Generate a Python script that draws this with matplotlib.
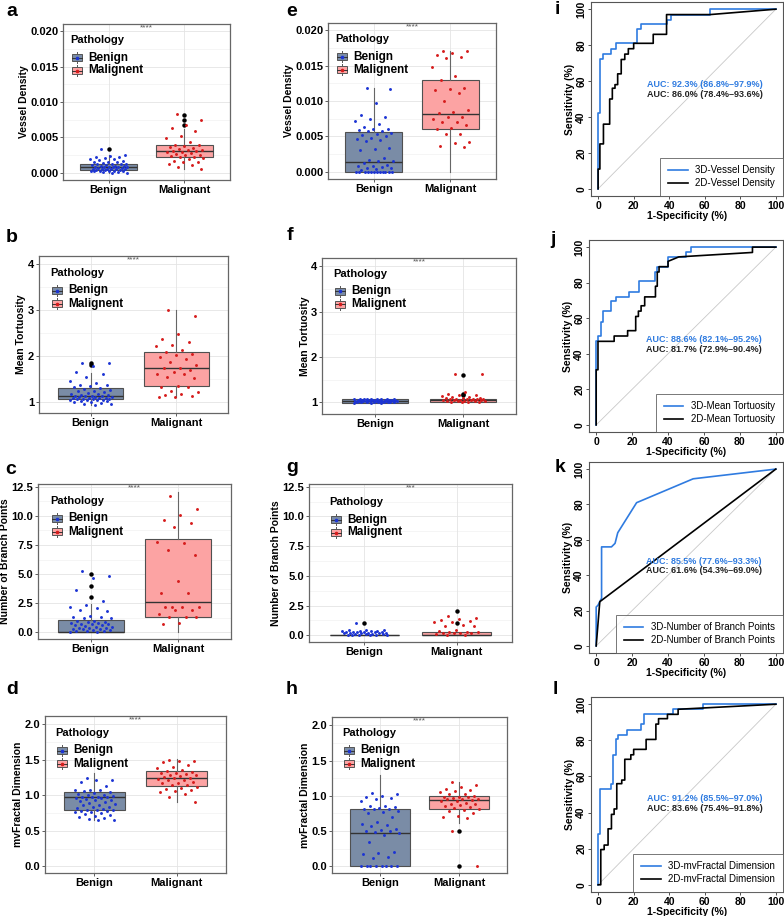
import numpy as np
import matplotlib
matplotlib.use('Agg')
import matplotlib.pyplot as plt
from matplotlib.lines import Line2D
from matplotlib.patches import Rectangle

plt.rcParams['font.family'] = ['Liberation Sans', 'DejaVu Sans']

W, H = 784, 916

BEN_FILL = '#7a8ca6'
MAL_FILL = '#fca3a3'
BEN_DOT = '#1c34d4'
MAL_DOT = '#d61c1c'
ROC_BLUE = '#2f7be0'

### DATA: box panels (whislo, q1, median, q3, whishi) ###
groups = ['Benign', 'Malignant']
legend_labels = ['Benign', 'Malignent']

a_ben = [0.0034, 0.0025, 0.0024, 0.0023, 0.0022, 0.0021, 0.0020, 0.0019, 0.0018, 0.0017,
         0.0016, 0.0015, 0.0015, 0.0014, 0.0013, 0.0013, 0.0012, 0.0012, 0.0011, 0.0011,
         0.0010, 0.0010, 0.0010, 0.0009, 0.0009, 0.0009, 0.0008, 0.0008, 0.0008, 0.0007,
         0.0007, 0.0006, 0.0006, 0.0006, 0.0005, 0.0005, 0.0005, 0.0004, 0.0004, 0.0004,
         0.0003, 0.0003, 0.0003, 0.0002, 0.0002, 0.0002, 0.0001, 0.0001, 0.0000, 0.0000]
a_mal = [0.0083, 0.0074, 0.0067, 0.0063, 0.0059, 0.0052, 0.0049, 0.0043, 0.0040, 0.0039,
         0.0038, 0.0036, 0.0035, 0.0034, 0.0033, 0.0032, 0.0031, 0.0031, 0.0030, 0.0029,
         0.0028, 0.0026, 0.0025, 0.0025, 0.0024, 0.0023, 0.0022, 0.0021, 0.0020, 0.0017,
         0.0016, 0.0015, 0.0012, 0.0011, 0.0008, 0.0006]
a_ben_box = [0.0, 0.0004, 0.0009, 0.0013, 0.0025]
a_mal_box = [0.0006, 0.0022, 0.0031, 0.0039, 0.0062]
a_ben_out = [0.0034]
a_mal_out = [0.0067, 0.0074, 0.0082]

e_ben = [0.0118, 0.0117, 0.0097, 0.0080, 0.0078, 0.0075, 0.0072, 0.0067, 0.0063, 0.0061,
         0.0060, 0.0059, 0.0058, 0.0057, 0.0055, 0.0054, 0.0052, 0.0050, 0.0048, 0.0046,
         0.0045, 0.0044, 0.0034, 0.0033, 0.0031, 0.0020, 0.0017, 0.0016, 0.0015, 0.0012,
         0.0010, 0.0009, 0.0008, 0.0007, 0.0006, 0.0005, 0.0004, 0.0003, 0.0, 0.0,
         0.0, 0.0, 0.0, 0.0, 0.0, 0.0, 0.0, 0.0, 0.0, 0.0]
e_mal = [0.0171, 0.0170, 0.0168, 0.0165, 0.0162, 0.0160, 0.0148, 0.0135, 0.0129, 0.0118,
         0.0117, 0.0116, 0.0111, 0.0100, 0.0087, 0.0085, 0.0083, 0.0078, 0.0077, 0.0074,
         0.0071, 0.0070, 0.0066, 0.0062, 0.0060, 0.0054, 0.0054, 0.0042, 0.0041, 0.0037,
         0.0035]
e_ben_box = [0.0, 0.0, 0.00146, 0.00566, 0.0119]
e_mal_box = [0.0, 0.0061, 0.0082, 0.0130, 0.0171]
e_ben_out = []
e_mal_out = []

b_ben = [1.86, 1.84, 1.78, 1.65, 1.62, 1.55, 1.45, 1.42, 1.38, 1.37, 1.35, 1.33, 1.31, 1.29,
         1.27, 1.25, 1.23, 1.21, 1.20, 1.18, 1.17, 1.16, 1.15, 1.14, 1.13, 1.12, 1.12, 1.11,
         1.10, 1.10, 1.09, 1.09, 1.08, 1.08, 1.07, 1.07, 1.06, 1.06, 1.05, 1.05, 1.04, 1.04,
         1.03, 1.02, 1.01, 1.00, 0.98, 0.96, 0.95, 0.94]
b_mal = [3.01, 2.87, 2.49, 2.37, 2.30, 2.25, 2.21, 2.13, 2.08, 2.05, 2.02, 1.97, 1.93, 1.87,
         1.80, 1.75, 1.73, 1.70, 1.65, 1.62, 1.60, 1.55, 1.52, 1.35, 1.33, 1.32, 1.25, 1.22,
         1.17, 1.15, 1.12, 1.11, 1.10]
b_ben_box = [0.94, 1.065, 1.13, 1.30, 1.63]
b_mal_box = [1.10, 1.34, 1.73, 2.08, 3.0]
b_ben_out = [1.80, 1.85]
b_mal_out = []

f_ben = [1.08, 1.08, 1.07, 1.07, 1.07, 1.06, 1.06, 1.06, 1.06, 1.05, 1.05, 1.05, 1.05, 1.05,
         1.04, 1.04, 1.04, 1.04, 1.04, 1.03, 1.03, 1.03, 1.03, 1.03, 1.03, 1.02, 1.02, 1.02,
         1.02, 1.02, 1.01, 1.01, 1.01, 1.01, 1.01, 1.00, 1.00, 1.00, 1.00, 0.99, 0.99, 0.99]
f_mal = [1.63, 1.62, 1.22, 1.19, 1.17, 1.16, 1.14, 1.12, 1.11, 1.10, 1.09, 1.09, 1.08, 1.08,
         1.07, 1.07, 1.06, 1.06, 1.05, 1.05, 1.05, 1.04, 1.04, 1.03, 1.03, 1.03, 1.02, 1.02,
         1.01, 1.01, 1.00, 1.00]
f_ben_box = [0.98, 0.99, 1.02, 1.06, 1.08]
f_mal_box = [1.0, 1.01, 1.045, 1.08, 1.13]
f_ben_out = []
f_mal_out = [1.61, 1.19, 1.16]

c_ben = [5.25, 4.85, 4.70, 3.60, 2.70, 2.35, 2.20, 2.10, 1.90, 1.85, 1.40, 1.35, 1.30, 1.25,
         1.20, 1.00, 0.95, 0.90, 0.85, 0.80, 0.80, 0.75, 0.70, 0.70, 0.65, 0.60, 0.55, 0.50,
         0.45, 0.40, 0.40, 0.35, 0.30, 0.30, 0.25, 0.20, 0.20, 0.15, 0.10, 0.10, 0.05, 0.05]
c_mal = [11.7, 10.6, 10.05, 9.6, 9.35, 9.0, 7.75, 7.65, 7.05, 6.65, 4.4, 3.35, 3.35, 2.2,
         2.2, 2.15, 2.15, 1.95, 1.9, 1.6, 1.35, 1.3, 1.3, 0.8, 0.75]
c_ben_box = [0.0, 0.0, 0.0, 1.03, 2.4]
c_mal_box = [0.0, 1.3, 2.57, 8.05, 12.07]
c_ben_out = [3.0, 4.0, 5.0]
c_mal_out = []

g_ben = [1.0, 0.45, 0.42, 0.40, 0.38, 0.36, 0.35, 0.33, 0.30, 0.30, 0.28, 0.27, 0.25, 0.25,
         0.22, 0.20, 0.20, 0.18, 0.15, 0.15, 0.12, 0.10, 0.10, 0.08, 0.05, 0.05, 0.03, 0.02,
         0.0, 0.0]
g_mal = [1.65, 1.45, 1.38, 1.30, 1.22, 1.15, 1.10, 0.82, 0.80, 0.75, 0.40, 0.33, 0.30, 0.28,
         0.25, 0.22, 0.20, 0.18, 0.15, 0.10, 0.05, 0.0]
g_ben_box = [0.0, 0.0, 0.0, 0.0, 0.0]
g_mal_box = [0.0, 0.0, 0.03, 0.26, 0.26]
g_ben_out = [1.0]
g_mal_out = [2.0, 1.0]

d_ben = [1.24, 1.22, 1.21, 1.19, 1.13, 1.08, 1.07, 1.07, 1.06, 1.04, 1.03, 1.02, 1.01, 1.00,
         0.99, 0.98, 0.98, 0.97, 0.97, 0.96, 0.96, 0.95, 0.94, 0.93, 0.92, 0.90, 0.89, 0.88,
         0.87, 0.86, 0.84, 0.83, 0.82, 0.81, 0.80, 0.79, 0.79, 0.78, 0.78, 0.77, 0.76, 0.75,
         0.74, 0.72, 0.71, 0.69, 0.68, 0.67, 0.65, 0.65]
d_mal = [1.50, 1.49, 1.48, 1.47, 1.43, 1.40, 1.38, 1.36, 1.34, 1.33, 1.32, 1.31, 1.30, 1.29,
         1.28, 1.27, 1.26, 1.25, 1.24, 1.23, 1.22, 1.21, 1.19, 1.18, 1.17, 1.15, 1.14, 1.12,
         1.11, 1.09, 1.08, 1.06, 1.04, 1.02, 0.98, 0.90]
d_ben_box = [0.65, 0.79, 0.974, 1.04, 1.31]
d_mal_box = [0.90, 1.13, 1.246, 1.345, 1.51]
d_ben_out = []
d_mal_out = []

h_ben = [1.04, 1.03, 1.00, 0.98, 0.97, 0.95, 0.92, 0.86, 0.85, 0.84, 0.83, 0.82, 0.82, 0.81,
         0.78, 0.77, 0.76, 0.70, 0.63, 0.60, 0.58, 0.57, 0.53, 0.52, 0.50, 0.50, 0.49, 0.48,
         0.45, 0.35, 0.20, 0.19, 0.18, 0.13, 0.12, 0.0, 0.0, 0.0, 0.0, 0.0, 0.0, 0.0, 0.0]
h_mal = [1.19, 1.15, 1.12, 1.10, 1.08, 1.07, 1.05, 1.03, 1.02, 1.00, 0.99, 0.98, 0.98, 0.97,
         0.96, 0.95, 0.95, 0.94, 0.93, 0.92, 0.90, 0.89, 0.88, 0.87, 0.85, 0.84, 0.83, 0.82,
         0.80, 0.78, 0.76, 0.72, 0.70, 0.68, 0.50, 0.0]
h_ben_box = [0.0, 0.0, 0.48, 0.806, 1.30]
h_mal_box = [0.61, 0.81, 0.937, 1.0, 1.19]
h_ben_out = []
h_mal_out = [0.5, 0.0]

### DATA: ROC curves (1-specificity %, sensitivity %) ###
i_3d_fpr = [0, 0, 0, 1, 1, 3, 3, 7, 7, 10, 10, 22, 22, 24, 24, 39, 39, 41, 41, 63, 63, 100]
i_3d_tpr = [0, 11, 42, 42, 72, 72, 75, 75, 78, 78, 81, 81, 89, 89, 92, 92, 94, 94, 97, 97, 100, 100]
i_2d_fpr = [0, 0, 1, 1, 3, 3, 6.5, 6.5, 8, 8, 9.5, 9.5, 11, 11, 13, 13, 15, 15, 17, 17, 20, 20,
            31, 31, 38.5, 38.5, 63, 100]
i_2d_tpr = [0, 11, 11, 25, 25, 36, 36, 50, 50, 56, 56, 58, 58, 64, 64, 72, 72, 75, 75, 78, 78, 81,
            81, 86, 86, 97, 97, 100]

j_3d_fpr = [0, 0, 1, 1, 2.5, 2.5, 4, 4, 8, 8, 11, 11, 18, 18, 24, 24, 33, 33, 34, 34, 40, 40,
            50, 50, 53, 53, 100]
j_3d_tpr = [0, 47, 47, 50, 50, 58, 58, 64, 64, 69.5, 69.5, 72, 72, 75, 75, 81, 81, 86, 86, 89, 89,
            94.5, 94.5, 97, 97, 100, 100]
j_2d_fpr = [0, 0, 1, 1, 10, 10, 17.5, 17.5, 22, 22, 23.5, 23.5, 25, 25, 27, 27, 33, 33, 34, 34,
            35, 35, 40, 40, 46, 87, 87, 100]
j_2d_tpr = [0, 31, 31, 47, 47, 50, 50, 53, 53, 61, 61, 64, 64, 67, 67, 72, 72, 78, 78, 86, 86,
            89, 89, 92, 94.5, 97, 100, 100]

k_3d_fpr = [0, 0, 1, 2, 3, 3, 8.5, 10.5, 12, 22.5, 54, 100]
k_3d_tpr = [0, 22, 23, 25, 27, 56, 56, 58, 64, 81, 94.5, 100]
k_2d_fpr = [0, 2, 100]
k_2d_tpr = [0, 25, 100]

l_3d_fpr = [0, 0, 1, 1, 7, 7, 8.5, 8.5, 10, 10, 11, 11, 16.5, 16.5, 24, 24, 26, 26, 42, 42,
            59, 59, 100]
l_3d_tpr = [0, 28, 28, 53, 53, 56, 56, 72, 72, 80.5, 80.5, 83, 83, 86, 86, 89, 89, 94.4, 94.4,
            97.2, 97.2, 100, 100]
l_2d_fpr = [0, 1.5, 1.5, 3.4, 3.4, 5.6, 5.6, 7.5, 7.5, 9, 9, 10.5, 10.5, 13.3, 13.3, 15, 15,
            18.4, 18.4, 20, 20, 27, 27, 32.5, 32.5, 34, 34, 39, 39, 45, 45, 100]
l_2d_tpr = [0, 0, 19.5, 19.5, 22, 22, 31, 31, 39, 39, 42, 42, 56, 56, 58, 58, 69.5, 69.5, 72,
            72, 75, 75, 80.5, 80.5, 89, 89, 92, 92, 94.4, 94.4, 97.2, 100]

roc_names = ['Vessel Density', 'Mean Tortuosity', 'Number of Branch Points', 'mvFractal Dimension']
auc_3d = ['AUC: 92.3% (86.8%\u201397.9%)', 'AUC: 88.6% (82.1%\u201395.2%)',
          'AUC: 85.5% (77.6%\u201393.3%)', 'AUC: 91.2% (85.5%\u201397.0%)']
auc_2d = ['AUC: 86.0% (78.4%\u201393.6%)', 'AUC: 81.7% (72.9%\u201390.4%)',
          'AUC: 61.6% (54.3%\u201369.0%)', 'AUC: 83.6% (75.4%\u201391.8%)']


def px_rect(l, t, r, b):
	return [l / W, 1 - b / H, (r - l) / W, (b - t) / H]


# deterministic horizontal spread of the dots (no randomness)
def jitter(n):
	return ((np.arange(n) * 0.618034 + 0.31) % 1.0 - 0.5) * 0.5


# ggplot-like legend drawn inside the panel; offsets are pixels from the panel's top-left corner
def draw_legend(ax, w_px, h_px, dx, dy):
	fx = lambda px: px / w_px
	fy = lambda py: 1 - py / h_px
	ax.text(fx(dx - 2), fy(dy), 'Pathology', transform=ax.transAxes, ha='left', va='center',
	        fontsize=8, fontweight='bold')
	for i, (fill, dot, lab) in enumerate(((BEN_FILL, BEN_DOT, legend_labels[0]),
	                                      (MAL_FILL, MAL_DOT, legend_labels[1]))):
		yc = dy + 17.5 + 13 * i
		ax.add_line(Line2D([fx(dx + 5)] * 2, [fy(yc - 5.5), fy(yc + 5.5)], color='#555555',
		                   lw=0.7, transform=ax.transAxes, clip_on=False, zorder=5))
		ax.add_patch(Rectangle((fx(dx), fy(yc + 3.5)), fx(10), 7 / h_px, facecolor=fill,
		                       edgecolor='#555555', lw=0.7, transform=ax.transAxes,
		                       clip_on=False, zorder=5))
		ax.add_line(Line2D([fx(dx), fx(dx + 10)], [fy(yc)] * 2, color='#333333', lw=0.7,
		                   transform=ax.transAxes, clip_on=False, zorder=6))
		ax.add_line(Line2D([fx(dx + 5)], [fy(yc)], marker='o', ms=1.6, color=dot, ls='none',
		                   transform=ax.transAxes, clip_on=False, zorder=7))
		ax.text(fx(dx + 16), fy(yc), lab, transform=ax.transAxes, ha='left', va='center',
		        fontsize=8.5, fontweight='bold')


def box_panel(rect, ben, mal, ben_box, mal_box, ben_out, mal_out, ylim, yticks, yfmt, ylabel,
              stars, leg_off):
	ax = fig.add_axes(px_rect(*rect))
	ax.set_xlim(0.4, 2.6)
	ax.set_ylim(*ylim)
	yt = np.array(yticks)
	for y in (yt[:-1] + yt[1:]) / 2:
		ax.axhline(y, color='#f2f2f2', lw=0.5, zorder=0)
	for y in yt:
		ax.axhline(y, color='#e4e4e4', lw=0.6, zorder=0)
	for x in (1, 2):
		ax.axvline(x, color='#e4e4e4', lw=0.6, zorder=0)

	stats = []
	for box, out in ((ben_box, ben_out), (mal_box, mal_out)):
		lo, q1, med, q3, hi = box
		stats.append(dict(whislo=lo, q1=q1, med=med, q3=q3, whishi=hi, fliers=out))
	bp = ax.bxp(stats, positions=[1, 2], widths=0.75, patch_artist=True, showcaps=False,
	            boxprops=dict(edgecolor='#505050', lw=0.8),
	            medianprops=dict(color='#333333', lw=1.0),
	            whiskerprops=dict(color='#666666', lw=0.8),
	            flierprops=dict(marker='o', mfc='black', mec='black', ms=2.2, ls='none'))
	for patch, fc in zip(bp['boxes'], (BEN_FILL, MAL_FILL)):
		patch.set_facecolor(fc)

	ax.plot(1 + jitter(len(ben)), ben, 'o', ms=2.1, color=BEN_DOT, mew=0, zorder=4)
	ax.plot(2 + jitter(len(mal)), mal, 'o', ms=2.1, color=MAL_DOT, mew=0, zorder=4)

	ax.set_xticks([1, 2])
	ax.set_xticklabels(groups, fontsize=8, fontweight='bold')
	ax.set_yticks(yticks)
	ax.set_yticklabels([yfmt.format(v) for v in yticks], fontsize=8, fontweight='bold')
	ax.tick_params(length=2, width=0.6, color='#444444', pad=1.5)
	ax.set_ylabel(ylabel, fontsize=7.5, fontweight='bold', labelpad=1)
	for s in ax.spines.values():
		s.set_color('#666666')
		s.set_linewidth(0.9)

	ax.text(0.5, 1.0, stars, transform=ax.transAxes, ha='center', va='top', fontsize=6,
	        color='#555555')

	draw_legend(ax, rect[2] - rect[0], rect[3] - rect[1], *leg_off)
	return ax


def roc_panel(rect, fpr3, tpr3, fpr2, tpr2, name, txt3, txt2, auc_y):
	ax = fig.add_axes(px_rect(*rect))
	ax.plot([0, 100], [0, 100], color='#c8c8c8', lw=0.6)
	ax.plot(fpr3, tpr3, color=ROC_BLUE, lw=1.2, label='3D-' + name)
	ax.plot(fpr2, tpr2, color='black', lw=1.2, label='2D-' + name)
	ax.set_xlim(-4, 104)
	ax.set_ylim(-4, 104)
	ticks = [0, 20, 40, 60, 80, 100]
	ax.set_xticks(ticks)
	ax.set_yticks(ticks)
	ax.set_xticklabels([str(t) for t in ticks], fontsize=7.5, fontweight='bold')
	ax.set_yticklabels([str(t) for t in ticks], fontsize=7.5, fontweight='bold',
	                   rotation=90, va='center')
	ax.tick_params(length=2.5, width=0.6, color='#333333', pad=1)
	ax.set_xlabel('1-Specificity (%)', fontsize=7.5, fontweight='bold', labelpad=0)
	ax.set_ylabel('Sensitivity (%)', fontsize=7.5, fontweight='bold', labelpad=1)
	for s in ax.spines.values():
		s.set_color('#555555')
		s.set_linewidth(0.8)
	ax.text(60, auc_y, txt3, color=ROC_BLUE, ha='center', va='center', fontsize=6.5,
	        fontweight='bold')
	ax.text(60, auc_y - 5.5, txt2, color='#222222', ha='center', va='center', fontsize=6.5,
	        fontweight='bold')
	leg = ax.legend(loc='lower right', fontsize=7, frameon=True, fancybox=False,
	                borderaxespad=0, borderpad=0.8, labelspacing=0.3, handlelength=2.0,
	                handletextpad=0.8)
	leg.get_frame().set_edgecolor('#555555')
	leg.get_frame().set_linewidth(0.7)
	return ax


fig = plt.figure(figsize=(W / 100, H / 100), dpi=100)

box_panel((63, 24, 230, 180), a_ben, a_mal, a_ben_box, a_mal_box, a_ben_out, a_mal_out,
          (-0.001, 0.021), [0.0, 0.005, 0.010, 0.015, 0.020], '{:.3f}', 'Vessel Density', '****', (9, 16))
box_panel((39, 256, 228, 413), b_ben, b_mal, b_ben_box, b_mal_box, b_ben_out, b_mal_out,
          (0.76, 4.18), [1, 2, 3, 4], '{:d}', 'Mean Tortuosity', '****', (13, 17))
box_panel((38, 484, 231, 639), c_ben, c_mal, c_ben_box, c_mal_box, c_ben_out, c_mal_out,
          (-0.57, 12.73), [0.0, 2.5, 5.0, 7.5, 10.0, 12.5], '{:.1f}', 'Number of Branch Points', '****', (14, 17))
box_panel((45, 716, 226, 873), d_ben, d_mal, d_ben_box, d_mal_box, d_ben_out, d_mal_out,
          (-0.094, 2.117), [0.0, 0.5, 1.0, 1.5, 2.0], '{:.1f}', 'mvFractal Dimension', '****', (12, 17))
box_panel((328, 23, 496, 179), e_ben, e_mal, e_ben_box, e_mal_box, e_ben_out, e_mal_out,
          (-0.001, 0.021), [0.0, 0.005, 0.010, 0.015, 0.020], '{:.3f}', 'Vessel Density', '****', (9, 16))
box_panel((322, 258, 516, 414), f_ben, f_mal, f_ben_box, f_mal_box, f_ben_out, f_mal_out,
          (0.74, 4.18), [1, 2, 3, 4], '{:d}', 'Mean Tortuosity', '****', (13, 16))
box_panel((309, 484, 512, 642), g_ben, g_mal, g_ben_box, g_mal_box, g_ben_out, g_mal_out,
          (-0.57, 12.73), [0.0, 2.5, 5.0, 7.5, 10.0, 12.5], '{:.1f}', 'Number of Branch Points', '***', (22, 18))
box_panel((332, 717, 507, 873), h_ben, h_mal, h_ben_box, h_mal_box, h_ben_out, h_mal_out,
          (-0.094, 2.117), [0.0, 0.5, 1.0, 1.5, 2.0], '{:.1f}', 'mvFractal Dimension', '****', (12, 16))

roc_panel((591, 2, 783, 196), i_3d_fpr, i_3d_tpr, i_2d_fpr, i_2d_tpr, roc_names[0], auc_3d[0], auc_2d[0], 58)
roc_panel((589, 240, 783, 432), j_3d_fpr, j_3d_tpr, j_2d_fpr, j_2d_tpr, roc_names[1], auc_3d[1], auc_2d[1], 48)
roc_panel((589, 462, 783, 653), k_3d_fpr, k_3d_tpr, k_2d_fpr, k_2d_tpr, roc_names[2], auc_3d[2], auc_2d[2], 48)
roc_panel((591, 697, 783, 892), l_3d_fpr, l_3d_tpr, l_2d_fpr, l_2d_tpr, roc_names[3], auc_3d[3], auc_2d[3], 48)

letters = [('a', 12, 12), ('b', 12, 238), ('c', 11, 470), ('d', 12, 689),
           ('e', 292, 12), ('f', 290, 236), ('g', 292, 468), ('h', 292, 689),
           ('i', 557, 10), ('j', 553, 240), ('k', 560, 468), ('l', 555, 689)]
for s, x, y in letters:
	fig.text(x / W, 1 - y / H, s, fontsize=14, fontweight='bold', ha='center', va='center')

fig.savefig('out.png', dpi=100)
